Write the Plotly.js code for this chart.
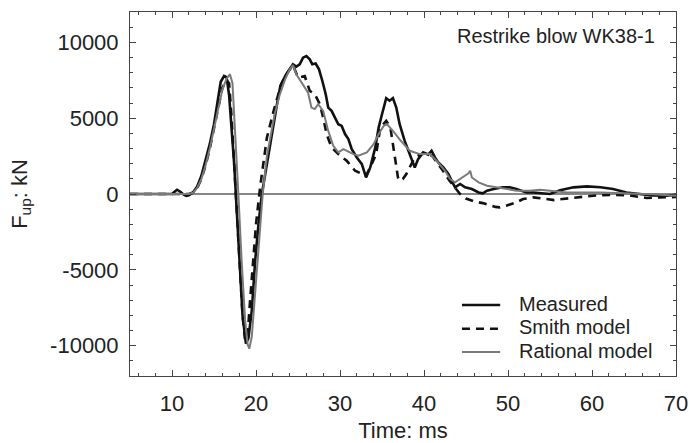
<!DOCTYPE html>
<html>
<head>
<meta charset="utf-8">
<script src="https://cdn.plot.ly/plotly-3.0.1.min.js"></script>
<style>html,body{margin:0;padding:0;background:#fff}#chart{width:689px;height:443px}</style>
</head>
<body>
<div id="chart"></div>
<script>
// Measured
const tMeasured = [5,10,10.3,10.6,11.0,11.4,11.7,12.0,12.5,13.0,13.5,14.0,14.5,15.0,15.5,15.8,16.2,16.5,16.8,17.1,17.4,17.6,18.0,18.4,18.8,19.1,19.5,19.9,20.3,20.7,21.3,21.7,22.1,22.5,22.9,23.5,24.0,24.4,24.8,25.2,25.6,26.0,26.4,26.7,27.1,27.5,27.9,28.3,28.6,29.0,29.4,29.8,30.2,30.6,31.0,31.4,32.0,32.6,33.1,33.6,34.2,34.6,35.0,35.5,35.9,36.3,36.7,37.1,37.7,38.3,38.9,39.3,39.9,40.5,40.9,41.3,41.7,42.3,42.9,43.3,43.7,44.3,44.9,45.7,46.5,47.0,47.5,48.3,49.4,50.2,51.0,52.2,53.0,55.0,56.2,57.8,59.4,61.0,62.5,64.1,65.7,67.2,68.9,70];
const fMeasured = [0,0,150,280,150,-50,-130,-80,100,500,1200,2200,3300,4600,6300,7400,7780,7700,6500,4500,2000,0,-4200,-8000,-9870,-9500,-7680,-4390,-1970,0,1970,3290,4820,5920,7120,7800,8220,8550,8400,8550,8990,9100,8880,8550,8600,8220,7450,6580,5700,5480,5040,4600,4490,3950,3620,2960,2410,1970,1090,1750,3070,4380,5260,6320,6150,6320,5700,4600,3500,2630,1750,2300,2740,2600,2850,2410,2080,1750,1320,870,440,660,440,330,100,40,220,330,440,440,330,100,100,0,250,440,500,450,330,100,0,-100,-110,-50];

// Smith model
const tSmith = [5,10,11,11.5,12,12.5,13,13.5,14,14.5,15,15.5,16,16.5,16.8,17.1,17.4,17.6,18.0,18.4,18.7,19.0,19.3,19.7,20.0,20.5,21.0,21.3,22.1,23.0,23.6,24.4,25.0,25.8,26.4,27.0,27.6,28.0,28.4,29.0,29.8,30.8,31.8,32.6,33.1,33.6,34.3,34.8,35.5,36.0,36.3,36.7,36.9,37.1,37.5,37.9,38.3,38.8,39.5,40.3,41.0,41.7,42.3,43.0,43.7,44.3,45.0,46.0,47.0,47.5,48.5,49.0,49.8,51.0,51.8,53.0,54.2,55.5,56.5,57.5,59.0,60.5,62.5,64.5,65.7,66.5,68,70];
const fSmith = [0,0,0,-20,0,100,400,1000,1900,3000,4300,5800,7000,7500,7300,5000,2000,0,-4000,-8000,-9650,-9300,-7000,-4000,-2000,500,2700,3720,5480,7240,7900,8500,7670,7780,6800,6580,5920,5040,3950,3070,2630,2190,1530,1320,1200,1750,2630,4380,4820,4380,3290,1970,1090,870,1000,1320,1750,2300,2600,2700,2500,2000,1500,900,440,0,-300,-500,-600,-700,-850,-880,-770,-550,-330,-220,-330,-400,-330,-260,-180,-100,-50,-100,-220,-260,-230,-200];

// Rational model
const tRational = [5,10,11,11.5,12,12.5,13,13.5,14,14.5,15,15.5,16,16.5,16.9,17.2,17.5,17.9,18.3,18.7,19.0,19.2,19.5,19.9,20.3,20.8,21.3,21.7,22.2,22.8,23.5,24.0,24.4,24.8,25.4,26.2,26.6,27.0,27.4,28.0,28.6,29.2,29.8,30.4,31.0,31.6,32.2,33.2,34.0,34.6,35.2,35.6,36.3,37.1,38.3,39.5,40.7,41.5,42.5,43.1,43.7,44.5,45.3,45.5,45.7,46.5,47.5,48.6,49.8,51.0,52.6,53.8,55,57,61,65,67.2,70];
const fRational = [0,0,0,-30,0,80,400,1000,1900,3000,4300,5700,6900,7600,7900,7300,4500,0,-4500,-8300,-9900,-10200,-9400,-6500,-3000,0,2500,3800,5200,6500,7600,8200,8500,7900,7340,6680,5700,5600,5920,5480,4160,3180,2740,2960,2800,2630,2520,2740,3290,3950,4490,4600,4160,3600,2850,2630,2630,2190,1530,990,770,1090,1360,1530,1090,770,550,440,330,220,220,280,220,100,100,40,-20,-110];

const seriesNames = ['Measured','Smith model','Rational model'];
const yTickVals = [-10000,-5000,0,5000,10000];
const yTickText = ['-10000','-5000','0','5000','10000'];
const xTickVals = [10,20,30,40,50,60,70];

const FONT = 'Liberation Sans, Arial, Helvetica, sans-serif';
const AX = '#444';
const TXT = '#222';

const lineStyles = [
  {color:'#111', width:2.6},
  {color:'#111', width:2.6, dash:'8px,6px'},
  {color:'#7a7a7a', width:2}
];

const traces = [
  {x:tMeasured, y:fMeasured, name:seriesNames[0], mode:'lines', line:lineStyles[0]},
  {x:tSmith, y:fSmith, name:seriesNames[1], mode:'lines', line:lineStyles[1]},
  {x:tRational, y:fRational, name:seriesNames[2], mode:'lines', line:lineStyles[2]}
];

// Legend drawn in paper coordinates (compact spacing as in the reference)
const legX0 = 0.608, legX1 = 0.678, legTextX = 0.708;
const legY = [0.195, 0.130, 0.066];
const legendShapes = seriesNames.map((n, i) => ({
  type:'line', xref:'paper', yref:'paper', x0:legX0, x1:legX1, y0:legY[i], y1:legY[i],
  line:lineStyles[i]
}));
const legendTexts = seriesNames.map((n, i) => ({
  text:n, xref:'paper', yref:'paper', x:legTextX, y:legY[i] + 0.004,
  xanchor:'left', yanchor:'middle', showarrow:false,
  font:{family:FONT, size:20, color:TXT}
}));

const axisCommon = {
  showline:true, linecolor:AX, linewidth:1, mirror:'ticks',
  ticks:'inside', ticklen:6, tickwidth:1, tickcolor:AX, automargin:false,
  showgrid:false, tickfont:{family:FONT, size:22, color:TXT}
};

const layout = {
  width:689, height:443,
  margin:{l:130, r:13, t:12, b:67},
  paper_bgcolor:'#fff', plot_bgcolor:'#fff',
  font:{family:FONT, color:TXT},
  showlegend:false,
  xaxis:Object.assign({}, axisCommon, {
    range:[5,70], tickmode:'array', tickvals:xTickVals,
    zeroline:false, ticklabelstandoff:8,
    minor:{dtick:2, tick0:0, ticks:'inside', ticklen:3, tickcolor:AX, showgrid:false},
    title:{text:'Time: ms', font:{family:FONT, size:22, color:TXT}, standoff:8}
  }),
  yaxis:Object.assign({}, axisCommon, {
    range:[-12000,12000], tickmode:'array', tickvals:yTickVals, ticktext:yTickText,
    zeroline:true, zerolinecolor:'#888', zerolinewidth:1.2,
    minor:{dtick:1000, tick0:0, ticks:'inside', ticklen:3, tickcolor:AX, showgrid:false},
    ticklabelstandoff:6,
    title:{text:'F<sub>up</sub>: kN', font:{family:FONT, size:22, color:TXT}, standoff:16}
  }),
  shapes:legendShapes,
  annotations:[{
    text:'Restrike blow WK38-1', xref:'paper', yref:'paper', x:0.966, y:0.935,
    xanchor:'right', yanchor:'middle', showarrow:false,
    font:{family:FONT, size:20, color:TXT}
  }].concat(legendTexts)
};

Plotly.newPlot('chart', traces, layout, {staticPlot:true, displayModeBar:false});
</script>
</body>
</html>
